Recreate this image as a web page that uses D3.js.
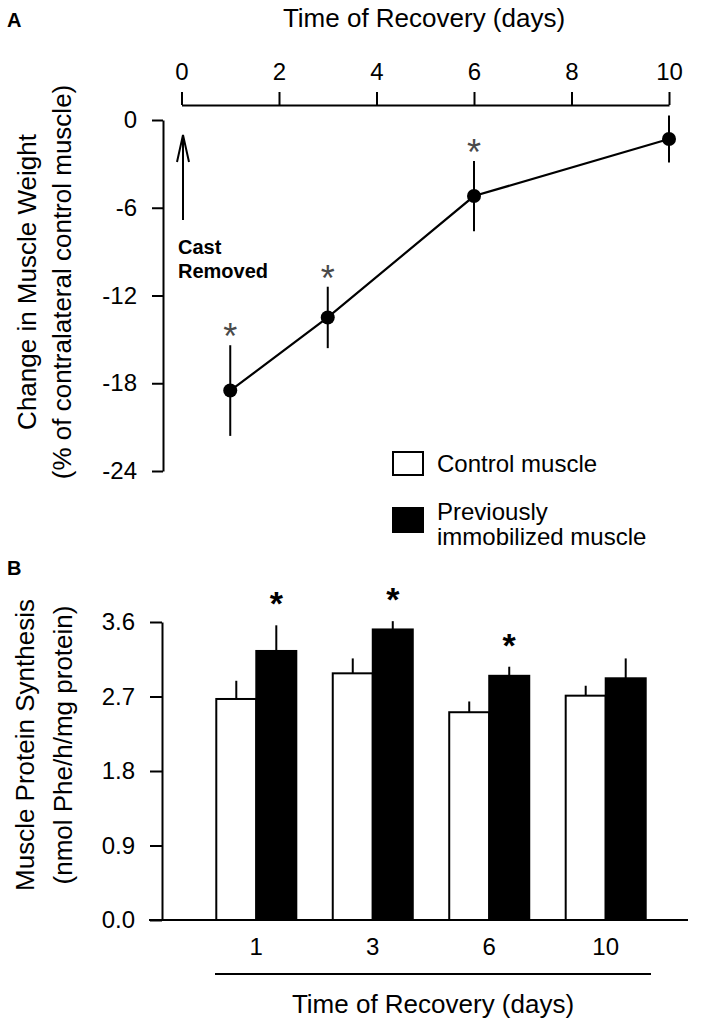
<!DOCTYPE html>
<html>
<head>
<meta charset="utf-8">
<script src="https://cdn.jsdelivr.net/npm/d3@7"></script>
<style>
  html, body { margin: 0; padding: 0; background: #fff; }
  svg { display: block; }
  text { font-family: "Liberation Sans", Arial, Helvetica, sans-serif; fill: #000; }
</style>
</head>
<body>
<svg id="chart" width="711" height="1026"></svg>
<script>
// ---------------- DATA ----------------
// Panel A: change in muscle weight (% of contralateral control muscle)
const recoveryDays = [1, 3, 6, 10];
const weightChange = [-18.5, -13.5, -5.2, -1.3];
const weightSE = [3.1, 2.1, 2.4, 1.6];
const weightSignificant = [true, true, true, false];
const topXTicks = [0, 2, 4, 6, 8, 10];
const topYTicks = [0, -6, -12, -18, -24];

// Panel B: muscle protein synthesis (nmol Phe/h/mg protein)
const groupLabels = ["1", "3", "6", "10"];
const seriesNames = ["Control muscle", "Previously immobilized muscle"];
const controlMPS = [2.67, 2.98, 2.51, 2.71];
const controlSE = [0.22, 0.18, 0.13, 0.12];
const immobMPS = [3.25, 3.51, 2.95, 2.92];
const immobSE = [0.31, 0.10, 0.11, 0.24];
const immobSignificant = [true, true, true, false];
const bottomYTicks = [0, 0.9, 1.8, 2.7, 3.6];

// ---------------- DRAW ----------------
const svg = d3.select("#chart");
const FONT_TICK = 24;
const FONT_TITLE = 26;

// ===== Panel A =====
const xA = d3.scaleLinear().domain([0, 10]).range([181.5, 669]);
const yA = d3.scaleLinear().domain([-24, 0]).range([471, 120]);

svg.append("text").attr("x", 7).attr("y", 27)
  .attr("font-size", 20).attr("font-weight", "bold").text("A");

svg.append("text").attr("x", 424).attr("y", 27)
  .attr("text-anchor", "middle").attr("font-size", FONT_TITLE)
  .text("Time of Recovery (days)");

const axTop = svg.append("g").attr("transform", "translate(0,105)")
  .call(d3.axisTop(xA).tickValues(topXTicks).tickFormat(d => String(d))
    .tickSize(13).tickSizeOuter(0).tickPadding(12));

const axLeftA = svg.append("g").attr("transform", "translate(163,0)")
  .call(d3.axisLeft(yA).tickValues(topYTicks).tickFormat(d => String(d))
    .tickSize(11).tickSizeOuter(0).tickPadding(15));

[axTop, axLeftA].forEach(g => {
  g.attr("font-family", null).attr("font-size", null);
  g.selectAll("text").attr("font-size", FONT_TICK);
  g.selectAll("path, line").attr("stroke", "#000").attr("stroke-width", 2);
});

// y title panel A
const yTitleA = svg.append("g").attr("transform", "translate(0,282) rotate(-90)");
yTitleA.append("text").attr("x", 0).attr("y", 36).attr("text-anchor", "middle")
  .attr("font-size", FONT_TITLE).text("Change in Muscle Weight");
yTitleA.append("text").attr("x", 0).attr("y", 71).attr("text-anchor", "middle")
  .attr("font-size", FONT_TITLE).text("(% of contralateral control muscle)");

// Cast removed arrow
const arrowX = xA(0) + 1.5;
svg.append("line").attr("x1", arrowX).attr("x2", arrowX)
  .attr("y1", yA(0) + 100).attr("y2", yA(0) + 15)
  .attr("stroke", "#000").attr("stroke-width", 2);
svg.append("path")
  .attr("d", `M${arrowX - 6},${yA(0) + 42} L${arrowX},${yA(0) + 15} L${arrowX + 6},${yA(0) + 42}`)
  .attr("fill", "none").attr("stroke", "#000").attr("stroke-width", 2);
svg.append("text").attr("x", 178).attr("y", 254).attr("font-size", 20)
  .attr("font-weight", "bold").text("Cast");
svg.append("text").attr("x", 178).attr("y", 278).attr("font-size", 20)
  .attr("font-weight", "bold").text("Removed");

const ptsA = recoveryDays.map((d, i) => ({ d, v: weightChange[i], se: weightSE[i], sig: weightSignificant[i] }));

// error bars
svg.append("g").selectAll("line").data(ptsA).join("line")
  .attr("x1", p => xA(p.d)).attr("x2", p => xA(p.d))
  .attr("y1", p => yA(p.v + p.se)).attr("y2", p => yA(p.v - p.se))
  .attr("stroke", "#000").attr("stroke-width", 2);

// line
svg.append("path").datum(ptsA)
  .attr("d", d3.line().x(p => xA(p.d)).y(p => yA(p.v)))
  .attr("fill", "none").attr("stroke", "#000").attr("stroke-width", 2.2);

// points
svg.append("g").selectAll("circle").data(ptsA).join("circle")
  .attr("cx", p => xA(p.d)).attr("cy", p => yA(p.v)).attr("r", 7)
  .attr("fill", "#000");

// significance stars (grey, thin)
svg.append("g").selectAll("text").data(ptsA.filter(p => p.sig)).join("text")
  .attr("x", p => xA(p.d)).attr("y", p => yA(p.v + p.se) - 17 + 21)
  .attr("text-anchor", "middle").attr("font-size", 36)
  .style("fill", "#4a4a4a")
  .text("*");

// Legend
const legend = svg.append("g");
legend.append("rect").attr("x", 393).attr("y", 452).attr("width", 30).attr("height", 23)
  .attr("fill", "#fff").attr("stroke", "#000").attr("stroke-width", 2);
legend.append("rect").attr("x", 393).attr("y", 508).attr("width", 30).attr("height", 24)
  .attr("fill", "#000").attr("stroke", "#000").attr("stroke-width", 2);
legend.append("text").attr("x", 437).attr("y", 472).attr("font-size", 24).text(seriesNames[0]);
legend.append("text").attr("x", 437).attr("y", 520).attr("font-size", 24).text("Previously");
legend.append("text").attr("x", 437).attr("y", 545).attr("font-size", 24).text("immobilized muscle");

// ===== Panel B =====
svg.append("text").attr("x", 7).attr("y", 575)
  .attr("font-size", 20).attr("font-weight", "bold").text("B");

const yB = d3.scaleLinear().domain([0, 3.6]).range([920, 622]);
const xB = d3.scaleBand().domain(groupLabels).range([198, 664]).paddingInner(0.313).paddingOuter(0.157);
const xSub = d3.scaleBand().domain(["control", "immob"]).range([0, xB.bandwidth()]);

const barData = [];
groupLabels.forEach((g, i) => {
  barData.push({ g, s: "control", v: controlMPS[i], se: controlSE[i], sig: false });
  barData.push({ g, s: "immob", v: immobMPS[i], se: immobSE[i], sig: immobSignificant[i] });
});

// error bars (upward only)
svg.append("g").selectAll("line").data(barData).join("line")
  .attr("x1", d => xB(d.g) + xSub(d.s) + xSub.bandwidth() / 2)
  .attr("x2", d => xB(d.g) + xSub(d.s) + xSub.bandwidth() / 2)
  .attr("y1", d => yB(d.v)).attr("y2", d => yB(d.v + d.se))
  .attr("stroke", "#000").attr("stroke-width", 2);

// bars
svg.append("g").selectAll("rect").data(barData).join("rect")
  .attr("x", d => xB(d.g) + xSub(d.s))
  .attr("y", d => yB(d.v))
  .attr("width", xSub.bandwidth())
  .attr("height", d => yB(0) - yB(d.v))
  .attr("fill", d => d.s === "control" ? "#fff" : "#000")
  .attr("stroke", "#000").attr("stroke-width", 2);

// stars
svg.append("g").selectAll("text").data(barData.filter(d => d.sig)).join("text")
  .attr("x", d => xB(d.g) + xSub(d.s) + xSub.bandwidth() / 2)
  .attr("y", d => yB(d.v + d.se) - 30 + 20)
  .attr("text-anchor", "middle").attr("font-size", 34).attr("font-weight", "bold")
  .text("*");

// y axis B
const axLeftB = svg.append("g").attr("transform", "translate(162,0)")
  .call(d3.axisLeft(yB).tickValues(bottomYTicks).tickFormat(d3.format(".1f"))
    .tickSize(12).tickSizeOuter(0).tickPadding(15));
axLeftB.attr("font-family", null).attr("font-size", null);
axLeftB.selectAll("text").attr("font-size", FONT_TICK);
axLeftB.selectAll("path, line").attr("stroke", "#000").attr("stroke-width", 2);

// baseline
svg.append("line").attr("x1", 149).attr("x2", 688)
  .attr("y1", yB(0)).attr("y2", yB(0))
  .attr("stroke", "#000").attr("stroke-width", 2);

// category labels
svg.append("g").selectAll("text").data(groupLabels).join("text")
  .attr("x", g => xB(g) + xB.bandwidth() / 2).attr("y", 955)
  .attr("text-anchor", "middle").attr("font-size", FONT_TICK).text(g => g);

// underline
svg.append("line").attr("x1", 215).attr("x2", 651).attr("y1", 974).attr("y2", 974)
  .attr("stroke", "#000").attr("stroke-width", 2);

svg.append("text").attr("x", 433).attr("y", 1013)
  .attr("text-anchor", "middle").attr("font-size", FONT_TITLE)
  .text("Time of Recovery (days)");

const yTitleB = svg.append("g").attr("transform", "translate(0,745) rotate(-90)");
yTitleB.append("text").attr("x", 0).attr("y", 34).attr("text-anchor", "middle")
  .attr("font-size", FONT_TITLE).text("Muscle Protein Synthesis");
yTitleB.append("text").attr("x", 0).attr("y", 72).attr("text-anchor", "middle")
  .attr("font-size", FONT_TITLE).text("(nmol Phe/h/mg protein)");
</script>
</body>
</html>
